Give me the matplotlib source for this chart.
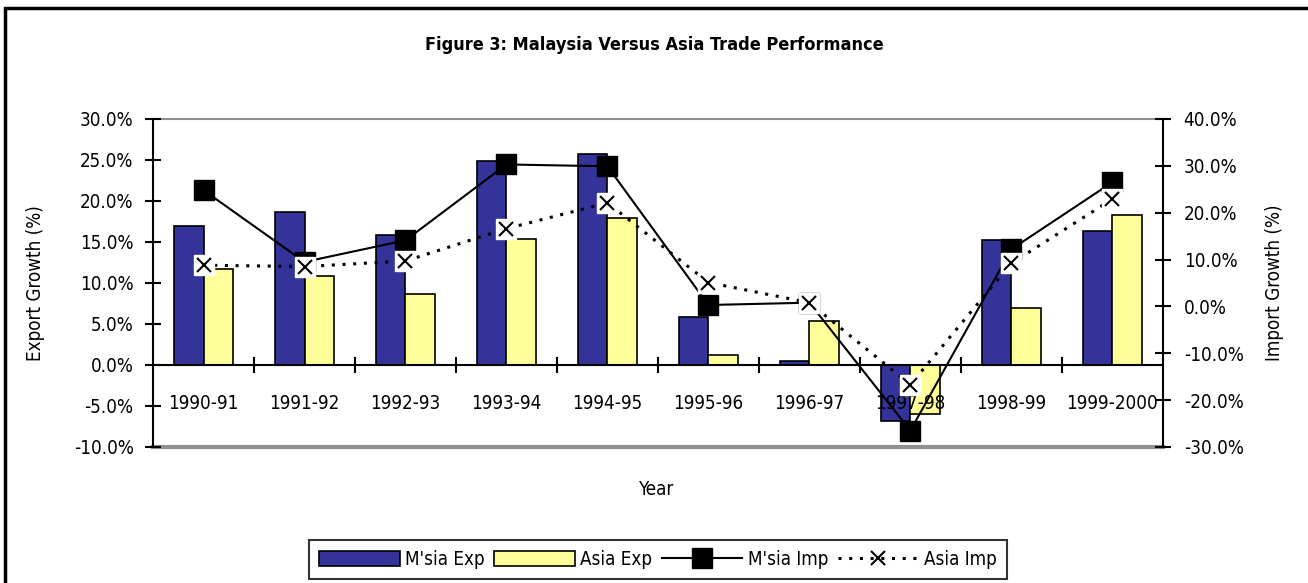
import matplotlib
matplotlib.use("Agg")
import matplotlib.pyplot as plt
from matplotlib.patches import Rectangle, Patch
from matplotlib.lines import Line2D
from matplotlib.ticker import FuncFormatter, FixedLocator

plt.rcParams['font.family'] = ['DejaVu Sans Condensed', 'DejaVu Sans']
plt.rcParams['font.stretch'] = 'condensed'

years = ["1990-91", "1991-92", "1992-93", "1993-94", "1994-95",
         "1995-96", "1996-97", "1997-98", "1998-99", "1999-2000"]
msia_exp = [16.9, 18.6, 15.9, 24.9, 25.7, 5.9, 0.5, -6.8, 15.2, 16.4]
asia_exp = [11.7, 10.8, 8.6, 15.4, 17.9, 1.2, 5.4, -6.0, 6.9, 18.3]
msia_imp = [24.8, 9.5, 14.1, 30.3, 29.9, 0.3, 0.8, -26.5, 12.2, 26.5]
asia_imp = [8.8, 8.5, 9.7, 16.6, 22.1, 5.1, 0.8, -16.7, 9.2, 22.9]

navy = "#333399"
yellow = "#FFFF99"
fs = 13.5

fig = plt.figure(figsize=(13.08, 5.83), dpi=100)
ax = fig.add_axes([0.117, 0.2333, 0.772, 0.5626])
ax.set_axisbelow(False)

x = list(range(len(years)))
w = 0.29
ax.bar([i - w / 2 for i in x], msia_exp, width=w, color=navy, edgecolor="black", linewidth=1.2, zorder=2)
ax.bar([i + w / 2 for i in x], asia_exp, width=w, color=yellow, edgecolor="black", linewidth=1.2, zorder=2)

ax.set_xlim(-0.5, len(years) - 0.5)
ax.set_ylim(-10, 30)
ax.set_yticks(range(-10, 31, 5))
ax.yaxis.set_major_formatter(FuncFormatter(lambda v, p: f"{v:.1f}%"))
ax.tick_params(axis="y", direction="inout", length=12, width=1.5, labelsize=fs, pad=8)

ax.spines["bottom"].set_position(("data", 0))
ax.spines["bottom"].set_linewidth(1.5)
ax.spines["left"].set_linewidth(1.5)
ax.spines["top"].set_color("#909090")
ax.spines["top"].set_linewidth(1.5)
ax.spines["right"].set_visible(False)
ax.axhline(-10, color="#909090", lw=3, clip_on=False, zorder=1)

ax.set_xticks(x)
ax.set_xticklabels(years, fontsize=fs)
ax.tick_params(axis="x", which="major", length=0, pad=21)
ax.xaxis.set_minor_locator(FixedLocator([i + 0.5 for i in x[:-1]]))
ax.tick_params(axis="x", which="minor", direction="inout", length=12, width=1.5)

ax2 = ax.twinx()
ax2.set_ylim(-30, 40)
ax2.set_yticks(range(-30, 41, 10))
ax2.yaxis.set_major_formatter(FuncFormatter(lambda v, p: f"{v:.1f}%"))
ax2.tick_params(axis="y", direction="inout", length=12, width=1.5, labelsize=fs, pad=9)
ax2.spines["right"].set_linewidth(1.5)
for s in ["top", "bottom", "left"]:
    ax2.spines[s].set_visible(False)

ax2.plot(x, msia_imp, color="black", lw=1.5, marker="s", markersize=15, zorder=3)
ax2.plot(x, asia_imp, color="black", lw=2.2, linestyle=(0, (1, 2.5)), zorder=3)
ax2.plot(x, asia_imp, linestyle="none", marker="s", markersize=15, color="white", zorder=4)
ax2.plot(x, asia_imp, linestyle="none", marker="x", markersize=10, markeredgewidth=1.5, color="black", zorder=5)

ax.set_ylabel("Export Growth (%)", fontsize=fs)
ax.yaxis.set_label_coords(-0.107, 0.5)
ax2.set_ylabel("Import Growth (%)", fontsize=fs)
ax2.yaxis.set_label_coords(1.101, 0.5)
fig.text(0.502, 0.16, "Year", fontsize=fs, ha="center", va="center")
fig.text(0.5, 0.923, "Figure 3: Malaysia Versus Asia Trade Performance",
         fontsize=13, fontweight="bold", ha="center", va="center")

handles = [
    Patch(facecolor=navy, edgecolor="black", linewidth=1.2),
    Patch(facecolor=yellow, edgecolor="black", linewidth=1.2),
    Line2D([], [], color="black", lw=1.5, marker="s", markersize=15),
    Line2D([], [], color="black", lw=2.2, linestyle=(0, (1, 2.5)), marker="x", markersize=10, markeredgewidth=1.5),
]
labels = ["M'sia Exp", "Asia Exp", "M'sia Imp", "Asia Imp"]
leg = fig.legend(handles, labels, loc="center", bbox_to_anchor=(0.503, 0.04), ncol=4,
                 fontsize=fs, frameon=True, fancybox=False, edgecolor="black",
                 handlelength=4.3, handleheight=0.9, handletextpad=0.3,
                 columnspacing=0.5, borderpad=0.55)
leg.get_frame().set_linewidth(1.5)

fig.patches.append(Rectangle((5 / 1308, -0.1), 1.2, 1.1 - 8 / 583, transform=fig.transFigure,
                             fill=False, edgecolor="black", lw=2.5))

fig.savefig("out.png", dpi=100)
